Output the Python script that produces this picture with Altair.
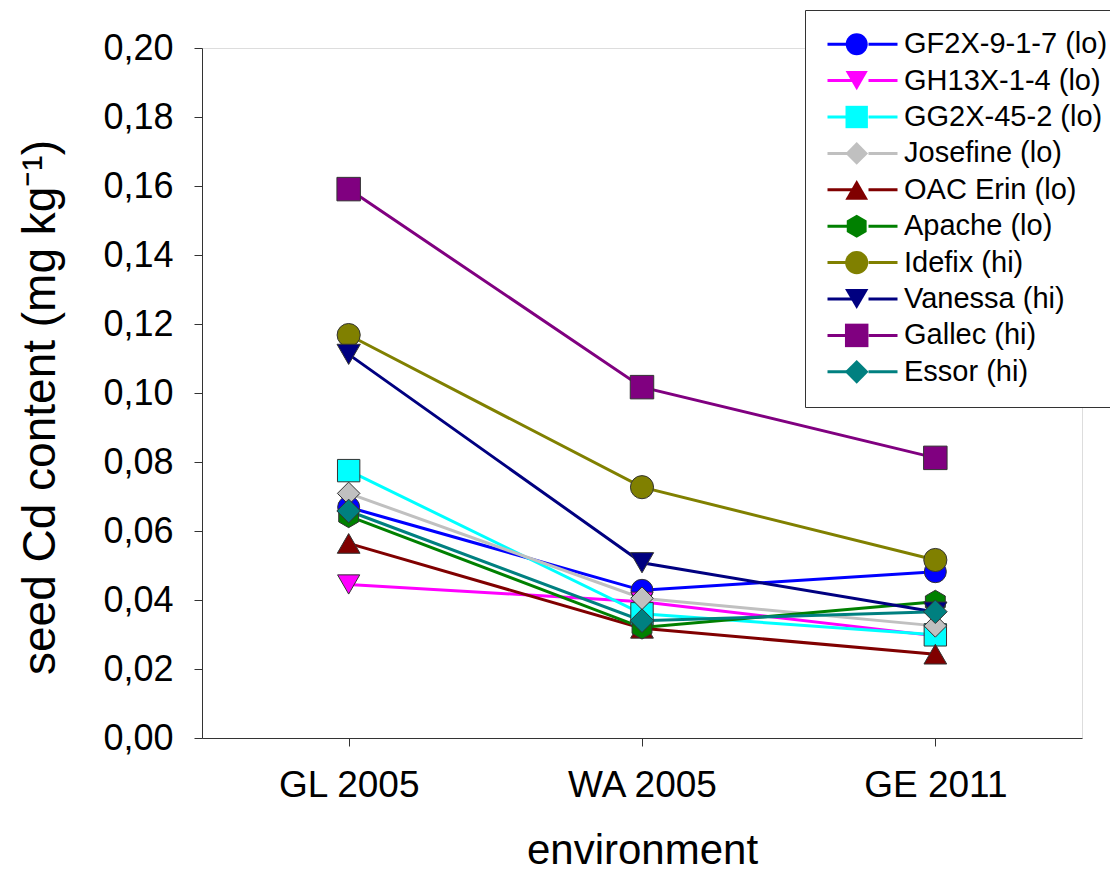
import altair as alt
import pandas as pd

# ---------------- data ----------------
environments = ["GL 2005", "WA 2005", "GE 2011"]
varieties = [
    "GF2X-9-1-7 (lo)", "GH13X-1-4 (lo)", "GG2X-45-2 (lo)", "Josefine (lo)",
    "OAC Erin (lo)", "Apache (lo)", "Idefix (hi)", "Vanessa (hi)",
    "Gallec (hi)", "Essor (hi)",
]
gl2005 = [0.0669, 0.0445, 0.0775, 0.0709, 0.0564, 0.0643, 0.1168, 0.1112, 0.1591, 0.0658]
wa2005 = [0.0428, 0.0395, 0.0360, 0.0405, 0.0318, 0.0320, 0.0727, 0.0508, 0.1017, 0.0340]
ge2011 = [0.0482, 0.0296, 0.0299, 0.0325, 0.0243, 0.0395, 0.0516, 0.0365, 0.0812, 0.0366]
y_ticks = [0.00, 0.02, 0.04, 0.06, 0.08, 0.10, 0.12, 0.14, 0.16, 0.18, 0.20]

# ---------------- style ----------------
colors = ["#0000FF", "#FF00FF", "#00FFFF", "#C0C0C0", "#800000",
          "#008000", "#808000", "#000080", "#800080", "#008080"]
hexagon = "M0,-1L0.866,-0.5L0.866,0.5L0,1L-0.866,0.5L-0.866,-0.5Z"
shapes = ["circle", "triangle-down", "square", "diamond", "triangle-up",
          hexagon, "circle", "triangle-down", "square", "diamond"]
sizes = [484, 560, 400, 650, 560, 600, 484, 560, 400, 650]
legend_line_path = "M-5,0H-0.857M0.857,0H5"
FONT = "Liberation Sans"

rows = []
for i, v in enumerate(varieties):
    for j, (env, vals) in enumerate(zip(environments, [gl2005, wa2005, ge2011])):
        rows.append({"series": v, "line_series": v, "idx": i, "env": env,
                     "env_idx": j, "value": vals[i]})
df = pd.DataFrame(rows)

x_enc = alt.X(
    "env:N",
    sort=environments,
    scale=alt.Scale(type="point", padding=0.5),
    axis=alt.Axis(
        labelAngle=0, tickSize=8, labelPadding=21, labelFontSize=37,
        labelColor="black", labelFont=FONT, title="environment",
        titleFontSize=42, titleFont=FONT, titleFontWeight="normal",
        titleColor="black", titleY=125, titleBaseline="alphabetic",
        domainColor="#333", tickColor="#333", grid=False,
    ),
)
y_enc = alt.Y(
    "value:Q",
    scale=alt.Scale(domain=[0, 0.2], nice=False),
    axis=alt.Axis(
        values=y_ticks,
        labelExpr="replace(format(datum.value, '.2f'), '.', ',')",
        tickSize=8, labelPadding=21, labelFontSize=36, labelColor="black",
        labelFont=FONT, title="seed Cd content (mg kg⁻¹)", titleFontSize=46,
        titleFont=FONT, titleFontWeight="normal", titleColor="black",
        titleAngle=270, titleX=-148, titleY=359, titleBaseline="alphabetic",
        titleAlign="center", domainColor="#333", tickColor="#333", grid=False,
    ),
)

LEG_X = 603
LEG_Y = -38
LEG_PAD = 19.7

point_legend = alt.Legend(
    orient="none", legendX=LEG_X, legendY=LEG_Y, title=None,
    labelFontSize=29, labelFont=FONT, labelColor="black", labelOffset=32.8,
    symbolOffset=17.5, rowPadding=6.4, padding=LEG_PAD,
    symbolStrokeColor="#333", symbolStrokeWidth=1, labelLimit=400,
    fillColor="white", strokeColor="#333",
)
line_legend = alt.Legend(
    orient="none", legendX=LEG_X, legendY=LEG_Y, title=None,
    symbolType=legend_line_path, symbolSize=196, symbolStrokeWidth=3,
    symbolOffset=23.3, labelFontSize=29, labelFont=FONT, labelExpr="' '",
    labelOffset=32.8, rowPadding=6.4, padding=LEG_PAD, labelLimit=400,
)

lines = alt.Chart(df).mark_line(strokeWidth=3).encode(
    x=x_enc,
    y=y_enc,
    color=alt.Color("line_series:N",
                    scale=alt.Scale(domain=varieties, range=colors),
                    legend=line_legend),
    order=alt.Order("env_idx:Q"),
)

points = alt.Chart(df).mark_point(
    filled=True, opacity=1, stroke="#333", strokeWidth=1
).encode(
    x=x_enc,
    y=y_enc,
    fill=alt.Fill("series:N", scale=alt.Scale(domain=varieties, range=colors),
                  legend=point_legend),
    shape=alt.Shape("series:N", scale=alt.Scale(domain=varieties, range=shapes),
                    legend=point_legend),
    size=alt.Size("series:N", scale=alt.Scale(domain=varieties, range=sizes),
                  legend=point_legend),
    order=alt.Order("idx:Q"),
)

chart = (
    alt.layer(lines, points)
    .resolve_legend(color="independent")
    .properties(
        width=880, height=690,
        autosize=alt.AutoSizeParams(type="none"),
        padding={"left": 194, "top": 40, "right": 28, "bottom": 130},
    )
    .configure_view(stroke="#333", strokeWidth=1)
    .configure(font=FONT, background="white")
)

chart.save("out.html", embed_options={"renderer": "svg", "actions": False})
